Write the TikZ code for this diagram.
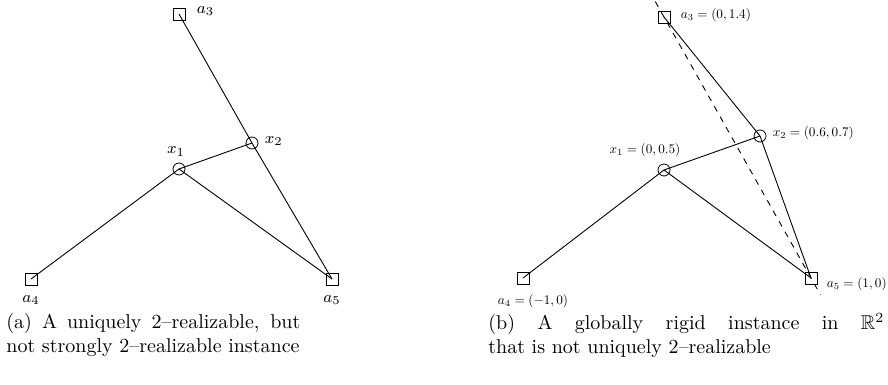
\documentclass[tikz,border=0pt]{standalone}
\usepackage{amssymb}
\usepackage{graphicx}
\usetikzlibrary{positioning}
\newcommand{\crd}[1]{\scalebox{0.66}{$#1$}}
\begin{document}
\begin{tikzpicture}[x=0.5pt, y=-0.5pt,
      known/.style={rectangle, draw=black, inner sep=0pt, minimum size=6pt},
      free/.style={circle, draw=black, inner sep=0pt, minimum size=6pt},
      bar/.style={black, line width=0.45pt},
      ghost/.style={bar, dashed, shorten <=-8.8pt, shorten >=-9.6pt},
      tag/.style={font=\footnotesize, inner sep=1pt},
      coord/.style={font=\normalsize, inner sep=0.5pt},
      subcap/.style={anchor=north west, align=justify, inner sep=0pt, font=\normalsize}
  ]
    \useasboundingbox (0,0) rectangle (888,385);

    % (a) uniquely 2-realizable
    \node[known] (la3) at (179,14) {};
    \node[free] (lx2) at (252,143) {};
    \node[free] (lx1) at (179,169) {};
    \node[known] (la4) at (31,279) {};
    \node[known] (la5) at (332,279) {};

    \node[tag, right=4.5pt of la3, yshift=1.5pt] (ta3) {$a_3$};
    \node[tag, right=2pt of lx2, yshift=1pt] (tx2) {$x_2$};
    \node[tag, above=2pt of lx1, xshift=-1.5pt] (tx1) {$x_1$};
    \node[tag, below=4pt of la4] (ta4) {$a_4$};
    \node[tag, below=4pt of la5] (ta5) {$a_5$};

    \draw[bar] (la3.center) -- (lx2.center) -- (la5.center);
    \draw[bar] (lx2.center) -- (lx1.center);
    \draw[bar] (la4.center) -- (lx1.center) -- (la5.center);

    % (b) globally rigid
    \node[known] (ra3) at (664,17) {};
    \node[free] (rx2) at (760,136) {};
    \node[free] (rx1) at (664,170) {};
    \node[known] (ra4) at (523,278) {};
    \node[known] (ra5) at (811,278) {};

    \node[coord, right=4.5pt of ra3, yshift=1pt] (ca3) {\crd{a_3=(0,1.4)}};
    \node[coord, right=2.5pt of rx2, yshift=1.5pt] (cx2) {\crd{x_2=(0.6,0.7)}};
    \node[coord, above=2.5pt of rx1, xshift=-9.5pt] (cx1) {\crd{x_1=(0,0.5)}};
    \node[coord, below=4.5pt of ra4, xshift=5pt] (ca4) {\crd{a_4=(-1,0)}};
    \node[coord, right=4pt of ra5, yshift=-3pt] (ca5) {\crd{a_5=(1,0)}};

    \draw[bar] (ra3.center) -- (rx2.center) -- (ra5.center);
    \draw[bar] (rx2.center) -- (rx1.center);
    \draw[bar] (ra4.center) -- (rx1.center) -- (ra5.center);
    \draw[ghost] (ra3.center) -- (ra5.center);

    % captions
    \node[subcap, text width=147pt] (capa) at (6,313)
      {(a) A uniquely 2--realizable, but\linebreak not strongly 2--realizable instance};
    \node[subcap, text width=198pt] (capb) at (488,313)
      {(b) A globally rigid instance in $\mathbb{R}^2$\linebreak that is not uniquely 2--realizable};
\end{tikzpicture}
\end{document}
